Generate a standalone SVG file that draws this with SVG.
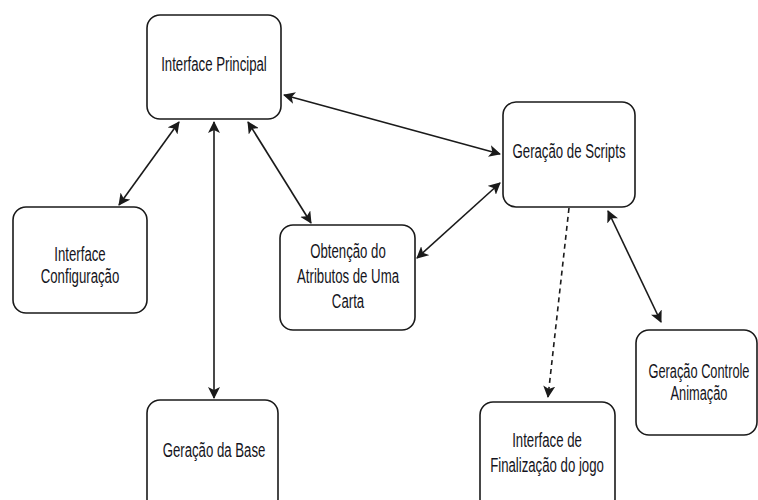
<svg xmlns="http://www.w3.org/2000/svg" width="758" height="500" viewBox="0 0 758 500">
  <style>
    .box { fill: #ffffff; stroke: #1a1a1a; stroke-width: 1.6; }
    .lbl { font-family: "Liberation Sans", Arial, sans-serif; font-size: 20px; fill: #141420; text-anchor: middle; }
    .edge { fill: none; stroke: #1a1a1a; stroke-width: 1.6; }
    .dash { stroke-dasharray: 5 4; }
  </style>
  <defs>
    <marker id="arrow" markerUnits="userSpaceOnUse" markerWidth="14" markerHeight="12" refX="11" refY="6" orient="auto-start-reverse" viewBox="0 0 14 12">
      <path d="M0,0 L12,6 L0,12 L3,6 Z" fill="#1a1a1a"/>
    </marker>
  </defs>

  <!-- connectors -->
  <g id="connectors">
    <line class="edge" x1="284" y1="95" x2="500" y2="154" marker-start="url(#arrow)" marker-end="url(#arrow)"/>
    <line class="edge" x1="179" y1="122" x2="119" y2="205" marker-start="url(#arrow)" marker-end="url(#arrow)"/>
    <line class="edge" x1="214" y1="122" x2="214" y2="398" marker-start="url(#arrow)" marker-end="url(#arrow)"/>
    <line class="edge" x1="248" y1="122" x2="311" y2="223" marker-start="url(#arrow)" marker-end="url(#arrow)"/>
    <line class="edge" x1="417" y1="258" x2="500" y2="183" marker-start="url(#arrow)" marker-end="url(#arrow)"/>
    <line class="edge dash" x1="569" y1="208" x2="548" y2="397" marker-end="url(#arrow)"/>
    <line class="edge" x1="608" y1="211" x2="661" y2="322" marker-start="url(#arrow)" marker-end="url(#arrow)"/>
  </g>

  <!-- nodes -->
  <g id="interface-principal">
    <rect class="box" x="147" y="15" width="134" height="104" rx="13"/>
    <text class="lbl" transform="translate(214,71) scale(0.66,1)">Interface Principal</text>
  </g>

  <g id="interface-configuracao">
    <rect class="box" x="13" y="207" width="134" height="106" rx="13"/>
    <text class="lbl" transform="translate(80,261) scale(0.66,1)">Interface</text>
    <text class="lbl" transform="translate(80,283) scale(0.66,1)">Configuração</text>
  </g>

  <g id="obtencao-atributos">
    <rect class="box" x="280" y="225" width="135" height="105" rx="13"/>
    <text class="lbl" transform="translate(348,258) scale(0.66,1)">Obtenção do</text>
    <text class="lbl" transform="translate(348,283) scale(0.66,1)">Atributos de Uma</text>
    <text class="lbl" transform="translate(348,308) scale(0.66,1)">Carta</text>
  </g>

  <g id="geracao-scripts">
    <rect class="box" x="503" y="102" width="132" height="105" rx="13"/>
    <text class="lbl" transform="translate(569,158) scale(0.66,1)">Geração de Scripts</text>
  </g>

  <g id="geracao-controle-animacao">
    <rect class="box" x="636" y="330" width="121" height="105" rx="13"/>
    <text class="lbl" transform="translate(699,378) scale(0.64,1)">Geração Controle</text>
    <text class="lbl" transform="translate(699,400) scale(0.64,1)">Animação</text>
  </g>

  <g id="interface-finalizacao">
    <rect class="box" x="480" y="402" width="135" height="110" rx="13"/>
    <text class="lbl" transform="translate(547,447) scale(0.66,1)">Interface de</text>
    <text class="lbl" transform="translate(547,472) scale(0.66,1)">Finalização do jogo</text>
  </g>

  <g id="geracao-base">
    <rect class="box" x="147" y="400" width="131" height="112" rx="13"/>
    <text class="lbl" transform="translate(214,457) scale(0.66,1)">Geração da Base</text>
  </g>
</svg>
